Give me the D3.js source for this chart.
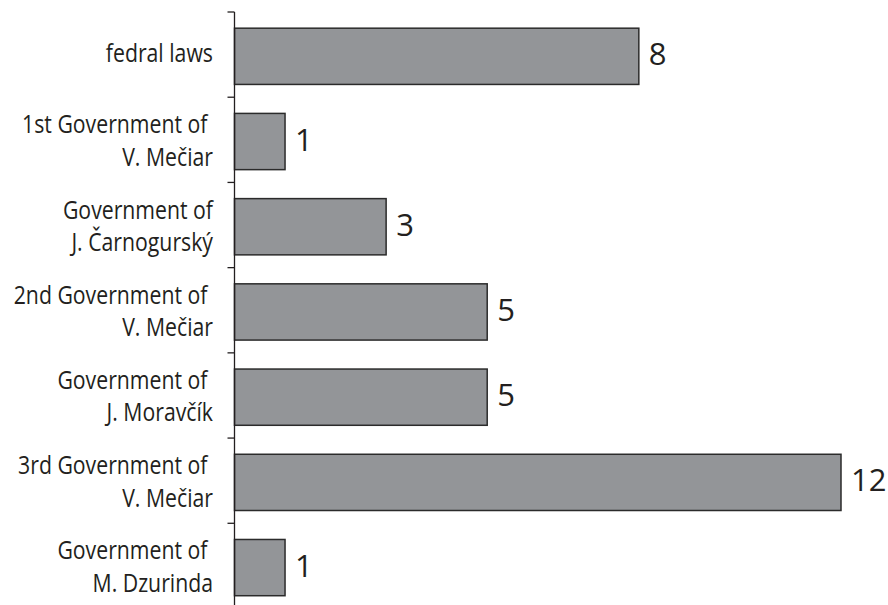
<!DOCTYPE html>
<html>
<head>
<meta charset="utf-8">
<script src="https://cdn.jsdelivr.net/npm/d3@7"></script>
<style>
  html, body { margin: 0; padding: 0; background: #fff; }
  svg { display: block; }
  .cat { font-family: "Open Sans", sans-serif; font-size: 25px; fill: #231f20; white-space: pre; }
  .val { font-family: "Open Sans", sans-serif; font-size: 31px; fill: #231f20; }
</style>
</head>
<body>
<svg id="chart" width="888" height="605"></svg>
<script>
// Data
const categories = [
  "fedral laws",
  "1st Government of V. Mečiar",
  "Government of J. Čarnogurský",
  "2nd Government of V. Mečiar",
  "Government of J. Moravčík",
  "3rd Government of V. Mečiar",
  "Government of M. Dzurinda"
];
const labelLines = [
  ["fedral laws"],
  ["1st Government of ", "V. Mečiar"],
  ["Government of", "J. Čarnogurský"],
  ["2nd Government of ", "V. Mečiar"],
  ["Government of ", "J. Moravčík"],
  ["3rd Government of ", "V. Mečiar"],
  ["Government of ", "M. Dzurinda"]
];
const values = [8, 1, 3, 5, 5, 12, 1];

const svg = d3.select("#chart");
const axisX = 234.5;

const y = d3.scaleBand().domain(categories).range([12, 608.5]).padding(0);
const x = d3.scaleLinear().domain([0, 12]).range([axisX, 841]);
const step = y.step();

// bars
svg.selectAll("rect.bar").data(categories).join("rect")
  .attr("class", "bar")
  .attr("x", x(0))
  .attr("y", d => y(d) + step * 0.19)
  .attr("width", (d, i) => x(values[i]) - x(0))
  .attr("height", step * 0.66)
  .attr("fill", "#939598")
  .attr("stroke", "#2b2b2b")
  .attr("stroke-width", 1.5);

// axis line and ticks between categories
svg.append("line")
  .attr("x1", axisX).attr("x2", axisX)
  .attr("y1", y.range()[0]).attr("y2", 605)
  .attr("stroke", "#231f20").attr("stroke-width", 1.3);

const boundaries = categories.map(c => y(c));
svg.selectAll("line.tick").data(boundaries).join("line")
  .attr("class", "tick")
  .attr("x1", axisX - 7).attr("x2", axisX)
  .attr("y1", d => d).attr("y2", d => d)
  .attr("stroke", "#231f20").attr("stroke-width", 1.3);

// category labels (slightly condensed to match the narrow humanist face)
const labelG = svg.append("g").attr("transform", "translate(213,0) scale(0.85,1)");
const labels = labelG.selectAll("text.cat").data(categories).join("text")
  .attr("class", "cat")
  .attr("text-anchor", "end")
  .attr("xml:space", "preserve");
labels.each(function(d, i) {
  const t = d3.select(this);
  const lines = labelLines[i];
  const c = y(d) + step / 2;
  if (lines.length === 1) {
    t.append("tspan").attr("x", 0).attr("y", c + 7).text(lines[0]);
  } else {
    t.append("tspan").attr("x", 0).attr("y", c - 6.5).text(lines[0]);
    t.append("tspan").attr("x", 0).attr("y", c + 26).text(lines[1]);
  }
});

// value labels
svg.selectAll("text.val").data(categories).join("text")
  .attr("class", "val")
  .attr("x", (d, i) => x(values[i]) + 10)
  .attr("y", d => y(d) + step * 0.19 + step * 0.33 + 9)
  .text((d, i) => values[i]);
</script>
</body>
</html>
